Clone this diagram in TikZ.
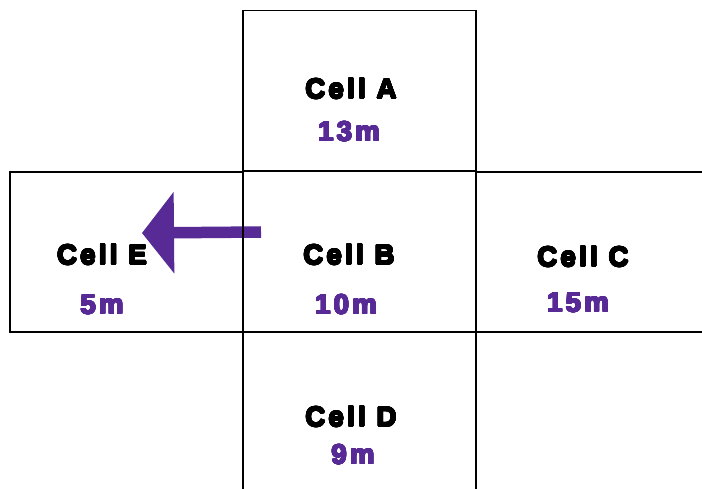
\documentclass[tikz,border=0pt]{standalone}
\usepackage{fontspec}
\usepackage{contour}
\setmainfont{Liberation Sans}
\newfontfamily\labelfont[LetterSpace=12]{Liberation Sans Bold}
\contourlength{0.7pt}
\contournumber{24}
\usetikzlibrary{arrows.meta}
\definecolor{cellpurple}{RGB}{88,42,150}
\newcommand{\heavytext}[2]{\contour{#1}{\textcolor{#1}{#2}}}
\tikzset{
  cell/.style={draw=black, line width=1.7pt, rectangle, inner sep=0pt},
  cellname/.style={font=\labelfont\fontsize{27.5}{28}\selectfont, text=black, inner sep=0pt},
  celldist/.style={font=\labelfont\fontsize{27.5}{28}\selectfont, text=cellpurple, inner sep=0pt},
  moveArrow/.style={draw=cellpurple, line width=11.5pt, -{Triangle[length=32pt, width=80pt]}}
}
\begin{document}
\begin{tikzpicture}[x=1pt, y=-1pt]
  \useasboundingbox (0,0) rectangle (702,489);
  \fill[white] (0,0) rectangle (702,489);

  % move from cell B towards cell E
  \coordinate (arrowstart) at (261,232);
  \coordinate (arrowtip) at (142,233);
  \draw[moveArrow] (arrowstart) -- (arrowtip);

  % the five cells
  \node[cell, minimum width=233pt, minimum height=160pt] (cellA) at (359.5,90.5) {};
  \node[cell, minimum width=233pt, minimum height=161pt] (cellB) at (359.5,251.5) {};
  \node[cell, minimum width=233pt, minimum height=160pt] (cellE) at (126.5,252) {};
  \node[cell, minimum width=250pt, minimum height=160pt] (cellC) at (601,252) {};
  \node[cell, minimum width=233pt, minimum height=175pt] (cellD) at (359.5,419.5) {};

  % cell names and distances
  \node[cellname] (nameA) at (351,89) {\heavytext{black}{Cell A}};
  \node[celldist] (distA) at (349,132) {\heavytext{cellpurple}{13m}};
  \node[cellname] (nameB) at (349,255) {\heavytext{black}{Cell B}};
  \node[celldist] (distB) at (346,305) {\heavytext{cellpurple}{10m}};
  \node[cellname] (nameC) at (583,257) {\heavytext{black}{Cell C}};
  \node[celldist] (distC) at (578,303) {\heavytext{cellpurple}{15m}};
  \node[cellname] (nameD) at (351,417) {\heavytext{black}{Cell D}};
  \node[celldist] (distD) at (353,455) {\heavytext{cellpurple}{9m}};
  \node[cellname] (nameE) at (102,255) {\heavytext{black}{Cell E}};
  \node[celldist] (distE) at (102,305) {\heavytext{cellpurple}{5m}};
\end{tikzpicture}
\end{document}
